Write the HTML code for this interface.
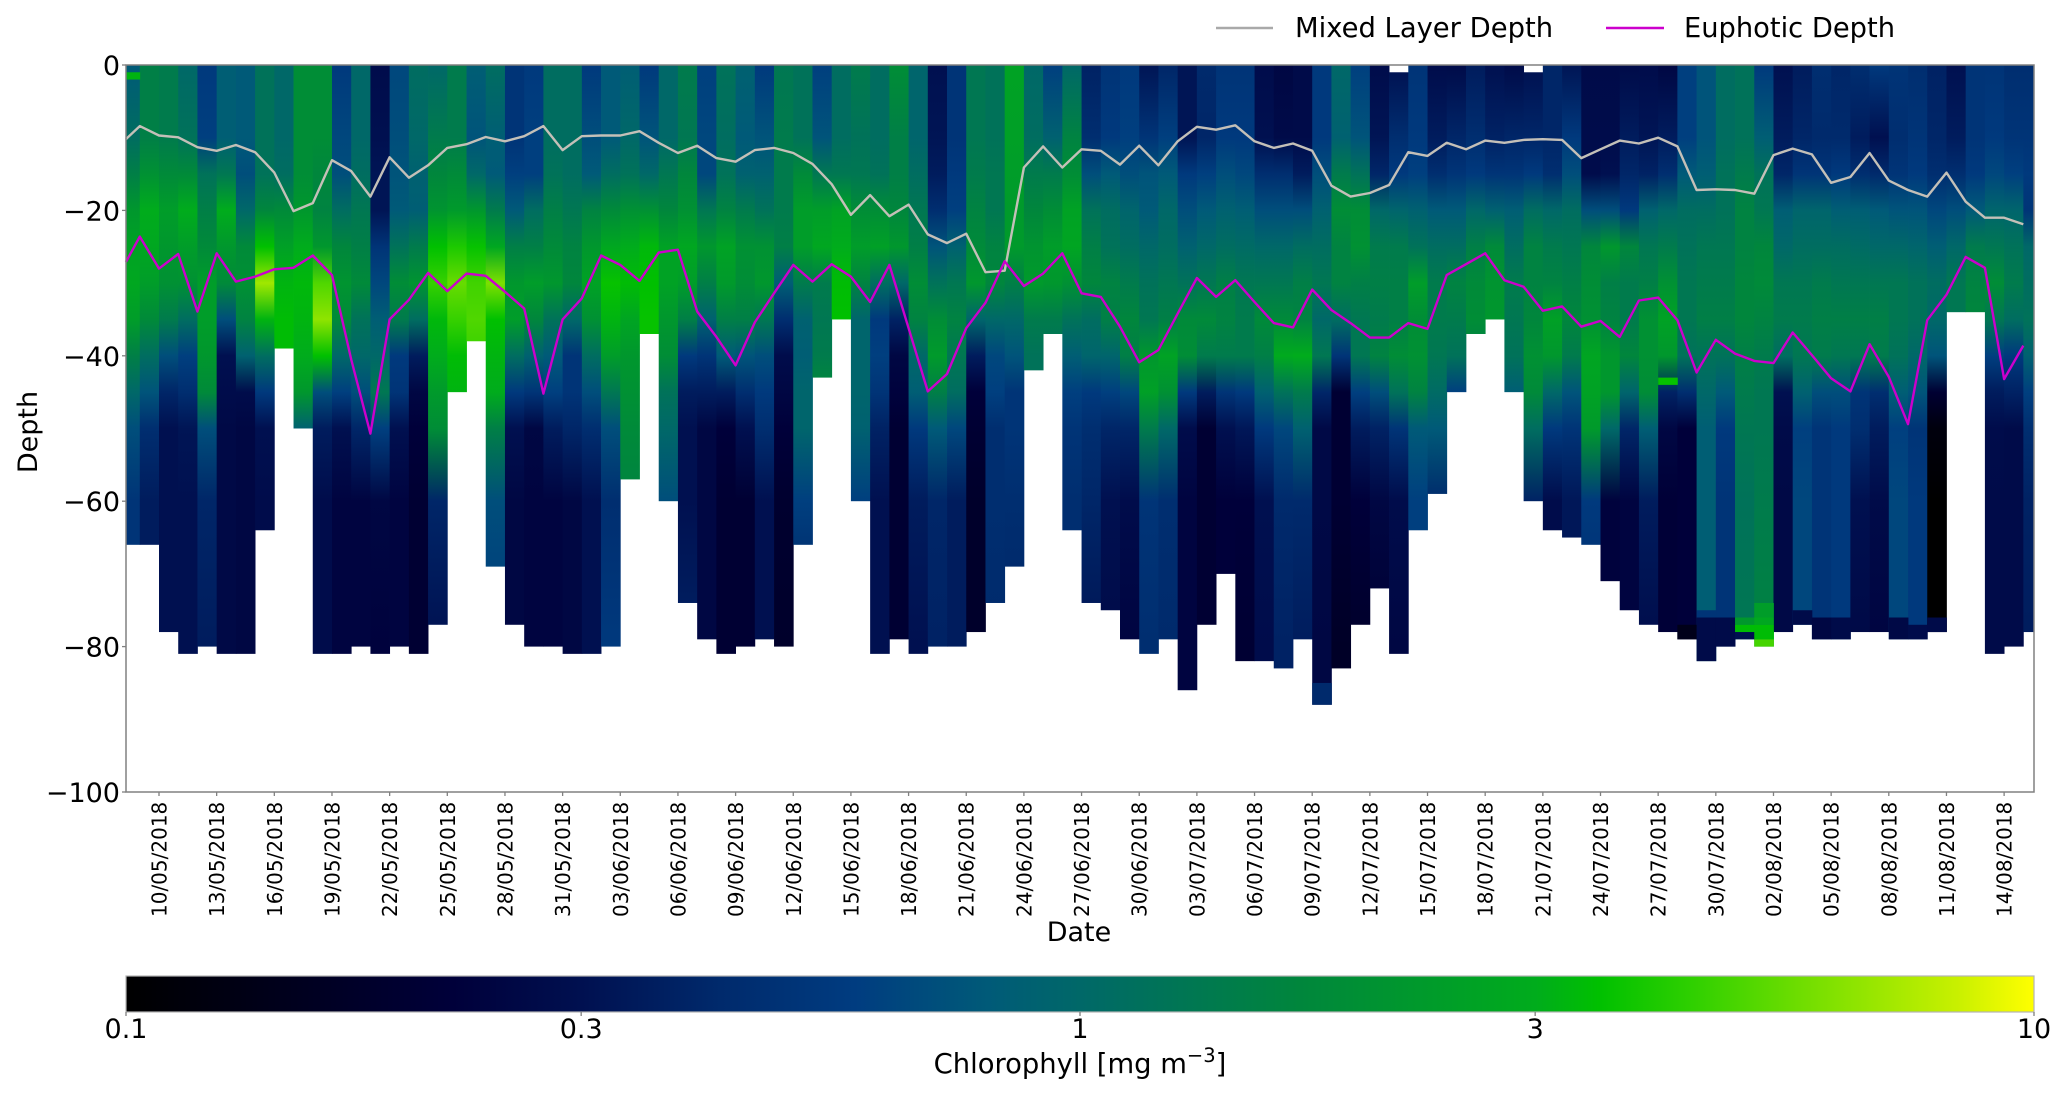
<!DOCTYPE html>
<html lang="en">
<head>
<meta charset="utf-8">
<title>Chlorophyll depth profile</title>
<style>
html,body{margin:0;padding:0;background:#fff;}
svg{display:block;font-family:"DejaVu Sans","Liberation Sans",sans-serif;fill:#000;}
</style>
</head>
<body>
<svg id="chart" xmlns="http://www.w3.org/2000/svg" width="2067" height="1097" viewBox="0 0 2067 1097">
  <defs id="defs"></defs>
  <g id="heatmap"></g>
  <g id="lines"></g>
  <rect x="126" y="65" width="1908" height="727" fill="none" stroke="#808080" stroke-width="1.5"></rect>
  <g id="y-axis"></g>
  <g id="x-axis"></g>
  <text transform="translate(37,432) rotate(-90)" text-anchor="middle" font-size="27">Depth</text>
  <text x="1079" y="941" text-anchor="middle" font-size="27">Date</text>
  <g>
    <g>
      <line x1="1216" x2="1273" y1="28" y2="28" stroke="#a9a9a9" stroke-width="2.4"></line>
      <text x="1295" y="37" font-size="27.4">Mixed Layer Depth</text>
    </g>
    <g>
      <line x1="1606" x2="1664" y1="28" y2="28" stroke="#cc00cc" stroke-width="2.4"></line>
      <text x="1684" y="37" font-size="27.3">Euphotic Depth</text>
    </g>
  </g>
  <g id="colorbar"></g>
  <text x="1080" y="1073" text-anchor="middle" font-size="27.4">Chlorophyll [mg m<tspan dy="-11" font-size="19.5">−3</tspan><tspan dy="11">]</tspan></text>
</svg>
<script>
// ---- Data ----
const sampleDays = [-1.72,-1,0,1,2,3,4,5,6,7,8,9,10,11,12,13,14,15,16,17,18,19,20,21,22,23,24,25,26,27,28,29,30,31,32,33,34,35,36,37,38,39,40,41,42,43,44,45,46,47,48,49,50,51,52,53,54,55,56,57,58,59,60,61,62,63,64,65,66,67,68,69,70,71,72,73,74,75,76,77,78,79,80,81,82,83,84,85,86,87,88,89,90,91,92,93,94,95,96,97];
const mixedLayerDepth = [-10.2,-8.4,-9.7,-9.95,-11.3,-11.8,-11,-12,-14.8,-20.1,-19,-13.1,-14.6,-18.1,-12.7,-15.5,-13.8,-11.4,-10.9,-9.9,-10.5,-9.8,-8.4,-11.7,-9.8,-9.7,-9.7,-9.1,-10.7,-12.1,-11.1,-12.8,-13.3,-11.7,-11.4,-12.1,-13.6,-16.4,-20.6,-17.9,-20.8,-19.2,-23.3,-24.5,-23.2,-28.5,-28.3,-14.1,-11.2,-14.1,-11.6,-11.8,-13.7,-11.1,-13.8,-10.5,-8.5,-8.9,-8.3,-10.5,-11.4,-10.8,-11.8,-16.6,-18.1,-17.6,-16.5,-12,-12.5,-10.7,-11.6,-10.4,-10.7,-10.3,-10.2,-10.3,-12.8,-11.6,-10.4,-10.8,-10,-11.2,-17.2,-17.1,-17.2,-17.7,-12.4,-11.5,-12.3,-16.2,-15.4,-12.1,-15.9,-17.2,-18.1,-14.8,-18.8,-21,-21,-21.9];
const euphoticDepth = [-27.1,-23.6,-28,-26,-33.9,-25.9,-29.8,-29.1,-28.1,-27.9,-26.2,-28.9,-40.5,-50.7,-35,-32.3,-28.6,-31.1,-28.7,-29,-31.2,-33.5,-45.2,-35,-32.1,-26.2,-27.5,-29.7,-25.8,-25.4,-33.9,-37.4,-41.3,-35.4,-31.4,-27.5,-29.8,-27.4,-29.1,-32.6,-27.5,-36.2,-44.9,-42.5,-36.2,-32.7,-27,-30.4,-28.7,-25.9,-31.4,-31.9,-36,-40.9,-39.2,-34.2,-29.3,-31.9,-29.6,-32.6,-35.5,-36.1,-30.9,-33.7,-35.5,-37.5,-37.5,-35.5,-36.3,-28.9,-27.4,-25.9,-29.6,-30.5,-33.8,-33.2,-36,-35.2,-37.4,-32.4,-32,-35.1,-42.3,-37.8,-39.7,-40.7,-41,-36.8,-39.9,-43.1,-44.9,-38.4,-42.9,-49.4,-35.1,-31.6,-26.4,-27.9,-43.2,-38.6];
const columnEdgeDays = [-1.72,-1,0,1,2,3,4,5,6,7,8,9,10,11,12,13,14,15,16,17,18,19,20,21,22,23,24,25,26,27,28,29,30,31,32,33,34,35,36,37,38,39,40,41,42,43,44,45,46,47,48,49,50,51,52,53,54,55,56,57,58,59,60,61,62,63,64,65,66,67,68,69,70,71,72,73,74,75,76,77,78,79,80,81,82,83,84,85,86,87,88,89,90,91,92,93,94,95,96,97,97.52];
const columnBottomDepth = [66,66,78,81,80,81,81,64,39,50,81,81,80,81,80,81,77,45,38,69,77,80,80,81,81,80,57,37,60,74,79,81,80,79,80,66,43,35,60,81,79,81,80,80,78,74,69,42,37,64,74,75,79,81,79,86,77,70,82,82,83,79,88,83,77,72,81,64,59,45,37,35,45,60,64,65,66,71,75,77,78,79,82,80,79,80,78,77,79,79,78,78,79,79,78,34,34,81,80,78];
const columnsMissingSurface = [66,73];
const depthKnots = [0,10,15,20,25,30,35,40,45,50,60,80];
// chlorophyll (mg m-3) per column at each depth knot
const chlorophyllColumns = [
[.8,1.1,1.5,2.2,2.6,2.8,2.4,1.5,1,.7,.5,.5],
[1.5,1.5,2,3,2.8,2.4,1.8,1.1,.75,.45,.35,.35],
[1.4,1.4,1.8,2.4,2.2,2,1.4,.7,.4,.3,.3,.3],
[1,1.2,1.8,3,2.4,2,1.1,.6,.45,.32,.3,.3],
[.55,.6,1.2,1.5,1.8,2.4,2.4,2.2,1.8,.7,.4,.35],
[.85,.85,1.3,3,2.2,1.8,.7,.3,.28,.26,.26,.26],
[.8,.8,.7,1,1.8,2,1.6,.9,.28,.25,.25,.25],
[1.2,1.2,1.2,1.7,3.5,7,3.2,1.1,.55,.3,.28,.28],
[1,1,1.1,1.8,2.5,3.2,3.4,3.4],
[1.9,1.9,1.9,2.2,3,3.3,3.2,3,2.2,.9],
[1.9,1.9,1.7,1.6,2.2,5,6.5,3.5,.7,.35,.28,.28],
[.55,.65,.7,1.1,1.7,2.1,1.8,1,.6,.3,.24,.24],
[1,1,1.1,1.3,1.5,1.8,1.2,1,.7,.4,.24,.24],
[.28,.3,.32,.32,.5,.65,.85,1,1.3,.6,.25,.23],
[.65,.7,.75,.8,1.2,1.9,1.4,.55,.5,.3,.24,.24],
[1.1,1,.9,.85,1.4,2.1,1.1,.35,.25,.22,.2,.2],
[1,1.4,1.7,2.1,3.5,4.5,3.3,3,2.3,1.9,.4,.3],
[1.4,1.4,1.8,2.3,4,5.5,4.5,3.4,3.2],
[.85,.75,1,2.2,3.6,4.7,5,4.5],
[1.1,.85,.8,1.4,2.8,6,3.5,3.2,3,1.5,.7,.55],
[.5,.5,.6,.8,1.5,2.2,2.4,1.1,.55,.3,.25,.25],
[.55,.6,.6,1.1,1.5,2.4,1.7,.9,.5,.25,.24,.24],
[1.1,1.1,1.2,1.5,1.8,2.2,1.2,.8,.6,.35,.24,.24],
[1.1,1.1,1.1,1.3,1.6,1.7,1,.5,.5,.4,.25,.25],
[.55,.7,.8,1.6,2.2,2.6,2,1.1,.7,.45,.3,.3],
[.8,.8,1.1,1.8,2.8,3.6,3.2,2.4,1.3,.7,.45,.55],
[.85,1,1.2,2,3,3.4,2.7,2.2,2,1.8,1.6],
[.55,.75,1,2,3.3,3.5,3.6,3.6],
[1,1,1.3,1.7,2.6,2.6,2.2,1.9,1.2,1,.7],
[1.4,1.3,1.7,2,2.8,2.4,1.5,.55,.35,.3,.3,.38],
[.6,.65,.65,1.3,2.2,1.5,.9,.5,.35,.25,.25,.25],
[1.2,1.1,1.2,1.6,2.6,2.3,1.5,.8,.35,.22,.2,.2],
[.9,.8,.9,1.4,2,1.9,1.5,.75,.45,.3,.2,.2],
[.55,.75,.9,1.2,2,2.2,1.3,.7,.55,.45,.3,.3],
[1.3,1.4,1.4,1.4,1.5,.85,.45,.28,.25,.22,.19,.18],
[1.2,1.2,1.8,2.4,2.4,1.4,.9,.85,.95,.95,.6,.35],
[.6,.75,1.3,2.4,2.8,1.4,1.3,1.4,1.8],
[1.1,1.1,1.3,2.6,3,3.4,3.5],
[1.4,1.2,1.3,1.9,2.4,1.6,.95,.95,.95,.9,.6],
[1.1,1.1,1.2,1.9,2.5,1.1,.55,.6,.5,.38,.3,.3],
[1.9,1.5,1.5,1.7,2.2,1,.38,.25,.23,.2,.2,.2],
[.95,.95,1.1,1.3,1.5,1.9,1.6,1,.85,.55,.35,.3],
[.3,.32,.35,.45,.75,1.2,1.9,2.3,1.5,.8,.4,.38],
[.5,.5,.55,.6,.9,1.3,1.6,1.3,1.1,.65,.35,.35],
[1.3,1.3,1.4,1.6,1.8,2.2,.95,.35,.22,.2,.18,.18],
[1.2,1.2,1.3,1.3,1.6,1.7,1,.65,.6,.45,.45,.42],
[2.6,2.5,2.4,2.3,2.3,1.5,1,.75,.5,.5,.45,.4],
[1,1.1,1.4,1.7,2.1,2.3,1.4,1.2],
[.6,.9,1.4,1.9,2.4,2.2,1.4,1.2],
[1,1.6,1.9,2.6,2.7,2,1.2,.85,.6,.5,.45],
[.38,.45,.7,1.2,1.5,1.7,1.1,.95,.55,.45,.4,.32],
[.5,.55,.8,1.1,1.2,1.6,1.5,.95,.6,.4,.3,.27],
[.55,.6,.7,.95,1.1,1.4,1.7,1.5,.65,.4,.28,.24],
[.32,.5,.75,.8,1,1.2,1.3,2.2,2.5,1.4,.5,.45],
[.4,.6,.8,1,1.1,1.3,1.5,2.6,2,1,.45,.42],
[.32,.32,.55,.7,.9,1.2,1.8,1.9,.55,.28,.24,.24],
[.42,.4,.6,.8,1,1.3,1.8,1.4,.35,.2,.2,.2],
[.5,.55,.7,.9,1.1,1.5,1.6,1.4,.5,.3,.22,.22],
[.5,.55,.65,.85,1.05,1.3,1.4,1.4,.55,.33,.22,.2],
[.28,.3,.45,.7,1,1.3,1.8,1.5,.9,.55,.3,.28],
[.25,.27,.45,.7,1,1.3,1.8,2.9,1.2,.65,.42,.38],
[.27,.27,.35,.7,1.1,1.5,1.6,3,1.4,.9,.42,.35],
[.55,.55,.7,.9,1.1,1.3,1,1.3,.4,.26,.26,.25],
[1,.9,1.4,1.9,1.6,1.6,1.1,.5,.2,.2,.2,.17],
[.6,.75,1.2,1.9,2,1.5,1.3,1.3,.6,.35,.22,.18],
[.28,.32,.4,1,1.4,1.5,1.4,1.6,.7,.38,.25,.2],
[.3,.45,.55,.95,1.4,1.5,1.5,1.9,1.2,.5,.28,.25],
[.5,.55,.6,.9,1.2,2.4,1.9,2,1.6,.8,.6],
[.28,.35,.45,.8,1.1,1.4,1.4,1.3,1.05,.8,.42],
[.27,.4,.5,.8,1.1,1.6,1.4,1.2,.6],
[.35,.45,.55,1,1.5,1.8,1.9,1.5],
[.3,.38,.5,.9,1.8,2.1,2.2],
[.27,.4,.5,.85,1.1,1.4,1.3,1.2,.85],
[.3,.4,.55,1.1,1.6,1.6,1.7,2,1.8,1.1,.38],
[.4,.4,.45,1,1.4,1.6,2.5,2.2,1,.55,.28],
[.32,.55,.7,1.1,1.3,1.5,1.7,1.4,.75,.5,.33],
[.27,.28,.28,.7,1.7,1.9,2,2.7,2.6,2.3,.55,.45],
[.27,.28,.3,.7,2.2,1.5,1.6,2.2,2.2,1,.23,.23],
[.27,.35,.4,.55,1.7,1.4,1.4,1.7,.95,.4,.24,.24],
[.28,.32,.38,.9,1.3,1.5,2,2,1.9,.85,.35,.28],
[.25,.35,.45,1,1.4,2,2.6,2.2,.38,.25,.21,.21],
[.6,.6,.8,1.1,1.2,1.3,1.3,1.2,.45,.22,.22,.22],
[.75,.75,.85,1.1,1.3,1.4,1.5,1.2,1,.85,.85,.85],
[1.1,1.1,1.2,1.2,1.3,1.4,1.5,1.2,.8,.55,.5,.5],
[1.2,1.2,1.4,1.6,1.6,1.7,1.7,1.5,1.4,1.3,1.2,1.3],
[.55,.85,1.2,1.3,1.7,1.8,1.6,1.4,1.3,1.3,1.4,1.6],
[.3,.35,.4,.85,1,1.3,1.4,1.1,.3,.27,.26,.26],
[.35,.4,.5,.95,1.1,1.3,1.4,1.3,.9,.6,.65,.65],
[.45,.42,.5,.95,1.1,1.4,1.5,1.4,.7,.5,.5,.5],
[.4,.42,.55,.85,1.1,1.3,1.5,1.3,.7,.55,.55,.55],
[.45,.35,.45,.85,1.05,1.3,1.5,1.3,.5,.45,.3,.26],
[.55,.3,.42,.8,1,1.3,1.5,1.4,.45,.35,.27,.24],
[.5,.45,.5,.75,1,1.3,1.3,1.2,.85,.6,.65,.65],
[.45,.5,.55,.75,.95,1.2,1.2,1,.75,.5,.55,.55],
[.38,.4,.45,.65,.85,1.1,1,.75,.2,.12,.1,.1],
[.3,.35,.45,.7,1,1.3,1.3],
[.5,.5,.55,.8,1.4,1.6,1.7],
[.5,.55,.65,.95,1.3,1.9,1.3,.6,.35,.28,.27,.27],
[.45,.5,.6,.95,1.2,1.4,1.1,.55,.38,.27,.27,.27],
[.45,.5,.55,.5,1,1.1,1.2,.9,.6,.45,.38,.35]
];
// thin bands that stand out from a column's profile
const bandColumns = [0,62,80,81,82,82,83,84,84,84,85,85,85,85,87,88,89,92,93,94];
const bandTopDepth = [1,85,43,77,75,76,76,76,77,78,74,76,77,79,75,76,76,76,77,76];
const bandBottomDepth = [2,88,44,79,76,82,80,77,78,79,76,77,79,80,77,79,79,79,79,78];
const bandValues = [3.2,.42,3.6,.14,.5,.27,.27,2.2,3.4,.3,2.4,2.8,3.4,4.8,.27,.25,.27,.26,.28,.27];

const yTicks = [0,-20,-40,-60,-80,-100];
const xTickDays = [0,3,6,9,12,15,18,21,24,27,30,33,36,39,42,45,48,51,54,57,60,63,66,69,72,75,78,81,84,87,90,93,96];
const xTickLabels = ["10/05/2018","13/05/2018","16/05/2018","19/05/2018","22/05/2018","25/05/2018","28/05/2018","31/05/2018","03/06/2018","06/06/2018","09/06/2018","12/06/2018","15/06/2018","18/06/2018","21/06/2018","24/06/2018","27/06/2018","30/06/2018","03/07/2018","06/07/2018","09/07/2018","12/07/2018","15/07/2018","18/07/2018","21/07/2018","24/07/2018","27/07/2018","30/07/2018","02/08/2018","05/08/2018","08/08/2018","11/08/2018","14/08/2018"];
const colorbarTicks = [0.1,0.3,1,3,10];
const colorbarTickLabels = ["0.1","0.3","1","3","10"];
const colormapValues = [0.1,0.15,0.22,0.3,0.42,0.58,0.8,1,1.7,3,3.5,4.4,6,8.3,10];
const colormapColors = ["#000000","#00001e","#00003a","#001050","#002a6c","#003c80","#005a78","#006868","#00863c","#00ac1c","#00c000","#30d000","#7ce000","#c8f000","#ffff00"];

// ---- Axis functions ----
const NS = "http://www.w3.org/2000/svg";
const xScale = d => 159 + 19.22 * d;
const yScale = v => 65 + (0 - v) * 7.27;
const cbScale = v => 126 + (Math.log10(v) + 1) / 2 * 1908;

function hexToRgb(h){return [1,3,5].map(i=>parseInt(h.substr(i,2),16));}
function chlColor(v){
  const t = Math.log10(Math.min(10,Math.max(0.1,v)));
  for(let i=1;i<colormapValues.length;i++){
    const b = Math.log10(colormapValues[i]);
    if(t<=b){
      const a = Math.log10(colormapValues[i-1]);
      const f = (t-a)/(b-a);
      const c0 = hexToRgb(colormapColors[i-1]), c1 = hexToRgb(colormapColors[i]);
      return "rgb("+c0.map((c,k)=>Math.round(c+(c1[k]-c)*f)).join(",")+")";
    }
  }
  return colormapColors[colormapColors.length-1];
}
function el(tag,parent,attrs){
  const e=document.createElementNS(NS,tag);
  for(const k in attrs)e.setAttribute(k,attrs[k]);
  parent.appendChild(e);
  return e;
}
const defs=document.getElementById("defs");
const heatmap=document.getElementById("heatmap");
const linesG=document.getElementById("lines");
const yAxis=document.getElementById("y-axis");
const xAxis=document.getElementById("x-axis");
const colorbar=document.getElementById("colorbar");

// ---- Heatmap ----
chlorophyllColumns.forEach((values,i)=>{
  const grad=el("linearGradient",defs,{id:"col"+i,gradientUnits:"userSpaceOnUse",x1:0,x2:0,y1:yScale(0),y2:yScale(-100)});
  values.forEach((v,j)=>{
    el("stop",grad,{offset:depthKnots[j]/100,"stop-color":chlColor(v)});
  });
  const top=columnsMissingSurface.includes(i)?1:0;
  const x0=xScale(columnEdgeDays[i]),x1=xScale(columnEdgeDays[i+1]);
  const r=el("rect",heatmap,{x:x0,y:yScale(-top),width:x1-x0+0.4,height:yScale(-columnBottomDepth[i])-yScale(-top),fill:"url(#col"+i+")"});
  
  
});
bandColumns.forEach((c,k)=>{
  const x0=xScale(columnEdgeDays[c]),x1=xScale(columnEdgeDays[c+1]);
  const r=el("rect",heatmap,{x:x0,y:yScale(-bandTopDepth[k]),width:x1-x0+0.4,height:yScale(-bandBottomDepth[k])-yScale(-bandTopDepth[k]),fill:chlColor(bandValues[k])});
  
  
});

// ---- Lines ----
function pts(series){return series.map((v,i)=>xScale(sampleDays[i]).toFixed(1)+","+yScale(v).toFixed(1)).join(" ");}
const mld=el("polyline",linesG,{points:pts(mixedLayerDepth),fill:"none",stroke:"#c4c0b8","stroke-width":2.4,"stroke-linejoin":"round"});


const eup=el("polyline",linesG,{points:pts(euphoticDepth),fill:"none",stroke:"#cc00cc","stroke-width":2.4,"stroke-linejoin":"round"});



// ---- Axes ----
yTicks.forEach(v=>{
  const y=yScale(v);
  const t=el("line",yAxis,{x1:122,x2:126,y1:y,y2:y,stroke:"#808080","stroke-width":1.3});
  
  
  const l=el("text",yAxis,{x:120,y:y+10,"text-anchor":"end","font-size":27});
  
  
  l.textContent=(v<0?"\u2212":"")+Math.abs(v);
});
xTickDays.forEach((d,i)=>{
  const x=xScale(d);
  const t=el("line",xAxis,{x1:x,x2:x,y1:792,y2:796,stroke:"#808080","stroke-width":1.3});
  
  
  const l=el("text",xAxis,{transform:"translate("+(x+7.5)+",917) rotate(-90)","font-size":20});
  
  
  l.textContent=xTickLabels[i];
});

// ---- Colorbar ----
const cbGrad=el("linearGradient",defs,{id:"cbGrad",x1:0,x2:1,y1:0,y2:0});
colormapValues.forEach((v,i)=>{
  el("stop",cbGrad,{offset:(Math.log10(v)+1)/2,"stop-color":colormapColors[i]});
});
const cbRect=el("rect",colorbar,{x:126,y:976,width:1908,height:36,fill:"url(#cbGrad)",stroke:"#b4b4b4","stroke-width":1.2});


colorbarTicks.forEach((v,i)=>{
  const x=cbScale(v);
  const t=el("line",colorbar,{x1:x,x2:x,y1:1012,y2:1016,stroke:"#808080","stroke-width":1.3});
  
  
  const l=el("text",colorbar,{x:x,y:1038,"text-anchor":"middle","font-size":27});
  
  
  l.textContent=colorbarTickLabels[i];
});
</script>
</body>
</html>
